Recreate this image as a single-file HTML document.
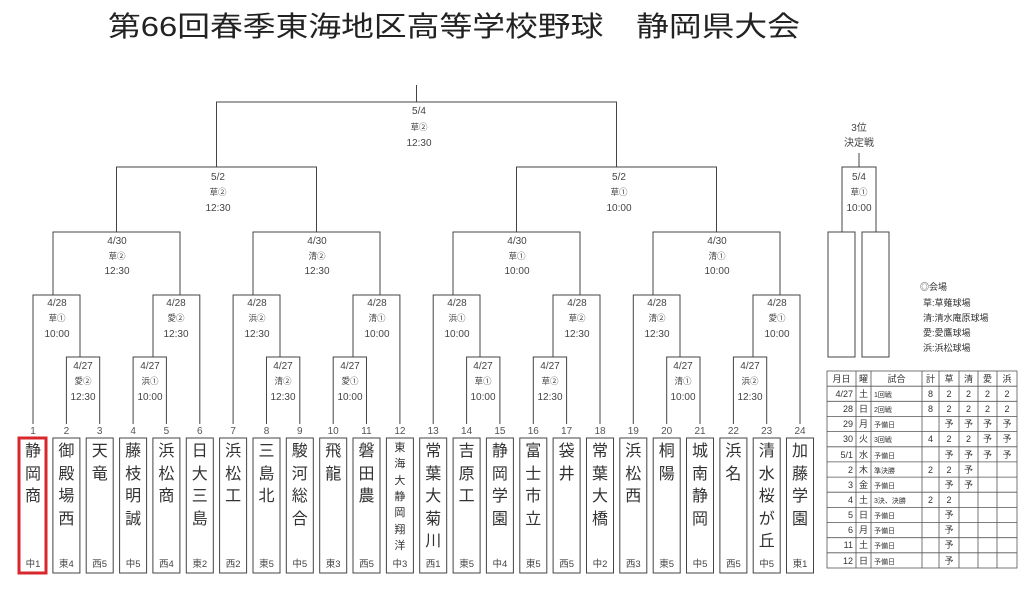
<!DOCTYPE html>
<html><head><meta charset="utf-8"><style>
html,body{margin:0;padding:0;background:#fff;}
svg{display:block;}
text{font-family:"Liberation Sans","Noto Sans CJK JP",sans-serif;fill:#333;}
.n{font-size:10px;text-anchor:middle;fill:#555;}
.t{font-size:16px;text-anchor:middle;fill:#333;}
.r{font-size:9.5px;text-anchor:middle;fill:#444;}
.d{font-size:10px;text-anchor:middle;fill:#444;}
.v{font-size:8.5px;text-anchor:middle;fill:#444;}
.tb{font-size:9px;fill:#222;}
</style></head><body>
<svg width="1024" height="589" viewBox="0 0 1024 589" xmlns="http://www.w3.org/2000/svg">
<text x="108" y="36" font-size="28" textLength="692" lengthAdjust="spacingAndGlyphs" style="fill:#222">第66回春季東海地区高等学校野球　静岡県大会</text>
<g fill="none" stroke="#444" stroke-width="1">
<path d="M66.4 424V357H99.7V424 M133.1 424V357H166.4V424 M33 424V295H80V357 M153 357V295H199.8V424 M53 295V232H180V295"/>
<path d="M266.5 424V357H299.8V424 M333.2 424V357H366.5V424 M233.1 424V295H280V357 M353 357V295H399.9V424 M253 295V232H380V295"/>
<path d="M116.5 232V167H316.5V232"/>
<path d="M466.6 424V357H499.9V424 M533.3 424V357H566.6V424 M433.2 424V295H480V357 M553 357V295H600V424 M453 295V232H580V295"/>
<path d="M666.7 424V357H700V424 M733.4 424V357H766.7V424 M633.3 424V295H680V357 M753 357V295H800V424 M653 295V232H780V295"/>
<path d="M516.5 232V167H716.5V232"/>
<path d="M216.5 167V102H616.5V167 M416.5 102V85"/>
<path d="M842 232V167H876V232 M859 167V153"/>
<rect x="828" y="232" width="27" height="125"/><rect x="862" y="232" width="27" height="125"/>
</g>
<!-- match labels -->
<g>
<text class="d" x="83" y="369">4/27</text><text class="v" x="83" y="384">愛②</text><text class="d" x="83" y="400">12:30</text>
<text class="d" x="150" y="369">4/27</text><text class="v" x="150" y="384">浜①</text><text class="d" x="150" y="400">10:00</text>
<text class="d" x="57" y="306">4/28</text><text class="v" x="57" y="321">草①</text><text class="d" x="57" y="337">10:00</text>
<text class="d" x="176" y="306">4/28</text><text class="v" x="176" y="321">愛②</text><text class="d" x="176" y="337">12:30</text>
<text class="d" x="117" y="244">4/30</text><text class="v" x="117" y="259">草②</text><text class="d" x="117" y="274">12:30</text>

<text class="d" x="283" y="369">4/27</text><text class="v" x="283" y="384">清②</text><text class="d" x="283" y="400">12:30</text>
<text class="d" x="350" y="369">4/27</text><text class="v" x="350" y="384">愛①</text><text class="d" x="350" y="400">10:00</text>
<text class="d" x="257" y="306">4/28</text><text class="v" x="257" y="321">浜②</text><text class="d" x="257" y="337">12:30</text>
<text class="d" x="377" y="306">4/28</text><text class="v" x="377" y="321">清①</text><text class="d" x="377" y="337">10:00</text>
<text class="d" x="317" y="244">4/30</text><text class="v" x="317" y="259">清②</text><text class="d" x="317" y="274">12:30</text>

<text class="d" x="218" y="180">5/2</text><text class="v" x="218" y="195">草②</text><text class="d" x="218" y="211">12:30</text>

<text class="d" x="483" y="369">4/27</text><text class="v" x="483" y="384">草①</text><text class="d" x="483" y="400">10:00</text>
<text class="d" x="550" y="369">4/27</text><text class="v" x="550" y="384">草②</text><text class="d" x="550" y="400">12:30</text>
<text class="d" x="457" y="306">4/28</text><text class="v" x="457" y="321">浜①</text><text class="d" x="457" y="337">10:00</text>
<text class="d" x="577" y="306">4/28</text><text class="v" x="577" y="321">草②</text><text class="d" x="577" y="337">12:30</text>
<text class="d" x="517" y="244">4/30</text><text class="v" x="517" y="259">草①</text><text class="d" x="517" y="274">10:00</text>

<text class="d" x="683" y="369">4/27</text><text class="v" x="683" y="384">清①</text><text class="d" x="683" y="400">10:00</text>
<text class="d" x="750" y="369">4/27</text><text class="v" x="750" y="384">浜②</text><text class="d" x="750" y="400">12:30</text>
<text class="d" x="657" y="306">4/28</text><text class="v" x="657" y="321">清②</text><text class="d" x="657" y="337">12:30</text>
<text class="d" x="777" y="306">4/28</text><text class="v" x="777" y="321">愛①</text><text class="d" x="777" y="337">10:00</text>
<text class="d" x="717" y="244">4/30</text><text class="v" x="717" y="259">清①</text><text class="d" x="717" y="274">10:00</text>

<text class="d" x="619" y="180">5/2</text><text class="v" x="619" y="195">草①</text><text class="d" x="619" y="211">10:00</text>
<text class="d" x="419" y="114">5/4</text><text class="v" x="419" y="130">草②</text><text class="d" x="419" y="146">12:30</text>

<text class="d" x="859" y="131">3位</text><text class="d" x="859" y="146">決定戦</text>
<text class="d" x="859" y="180">5/4</text><text class="v" x="859" y="195">草①</text><text class="d" x="859" y="211">10:00</text>
</g>
<!-- legend -->
<g class="tb" style="font-size:9px">
<text x="920" y="290">◎会場</text>
<text x="923" y="306">草:草薙球場</text>
<text x="923" y="321">清:清水庵原球場</text>
<text x="923" y="336">愛:愛鷹球場</text>
<text x="923" y="351">浜:浜松球場</text>
</g>
<!-- teams -->
<g fill="none" stroke="#444" stroke-width="1">
<rect x="66.4" y="438" width="27" height="135" transform="translate(-13.5 0)"/>
<rect x="86.2" y="438" width="27" height="135"/>
<rect x="119.6" y="438" width="27" height="135"/>
<rect x="152.9" y="438" width="27" height="135"/>
<rect x="186.3" y="438" width="27" height="135"/>
<rect x="219.6" y="438" width="27" height="135"/>
<rect x="253" y="438" width="27" height="135"/>
<rect x="286.3" y="438" width="27" height="135"/>
<rect x="319.7" y="438" width="27" height="135"/>
<rect x="353" y="438" width="27" height="135"/>
<rect x="386.4" y="438" width="27" height="135"/>
<rect x="419.7" y="438" width="27" height="135"/>
<rect x="453.1" y="438" width="27" height="135"/>
<rect x="486.4" y="438" width="27" height="135"/>
<rect x="519.8" y="438" width="27" height="135"/>
<rect x="553.1" y="438" width="27" height="135"/>
<rect x="586.5" y="438" width="27" height="135"/>
<rect x="619.8" y="438" width="27" height="135"/>
<rect x="653.2" y="438" width="27" height="135"/>
<rect x="686.5" y="438" width="27" height="135"/>
<rect x="719.9" y="438" width="27" height="135"/>
<rect x="753.2" y="438" width="27" height="135"/>
<rect x="786.5" y="438" width="27" height="135"/>
</g>
<rect x="19" y="438" width="27" height="135" fill="none" stroke="#d9272e" stroke-width="3"/>
<g>
<text class="n" x="33" y="434">1</text><text class="n" x="66.4" y="434">2</text><text class="n" x="99.7" y="434">3</text><text class="n" x="133.1" y="434">4</text><text class="n" x="166.4" y="434">5</text><text class="n" x="199.8" y="434">6</text><text class="n" x="233.1" y="434">7</text><text class="n" x="266.5" y="434">8</text><text class="n" x="299.8" y="434">9</text><text class="n" x="333.2" y="434">10</text><text class="n" x="366.5" y="434">11</text><text class="n" x="399.9" y="434">12</text><text class="n" x="433.2" y="434">13</text><text class="n" x="466.6" y="434">14</text><text class="n" x="499.9" y="434">15</text><text class="n" x="533.3" y="434">16</text><text class="n" x="566.6" y="434">17</text><text class="n" x="600" y="434">18</text><text class="n" x="633.3" y="434">19</text><text class="n" x="666.7" y="434">20</text><text class="n" x="700" y="434">21</text><text class="n" x="733.4" y="434">22</text><text class="n" x="766.7" y="434">23</text><text class="n" x="800" y="434">24</text>
</g>
<g>
<text class="t" x="33"><tspan x="33" y="456">静</tspan><tspan x="33" y="479">岡</tspan><tspan x="33" y="501">商</tspan></text>
<text class="t" x="66.4"><tspan x="66.4" y="456">御</tspan><tspan x="66.4" y="479">殿</tspan><tspan x="66.4" y="501">場</tspan><tspan x="66.4" y="524">西</tspan></text>
<text class="t" x="99.7"><tspan x="99.7" y="456">天</tspan><tspan x="99.7" y="479">竜</tspan></text>
<text class="t" x="133.1"><tspan x="133.1" y="456">藤</tspan><tspan x="133.1" y="479">枝</tspan><tspan x="133.1" y="501">明</tspan><tspan x="133.1" y="524">誠</tspan></text>
<text class="t" x="166.4"><tspan x="166.4" y="456">浜</tspan><tspan x="166.4" y="479">松</tspan><tspan x="166.4" y="501">商</tspan></text>
<text class="t" x="199.8"><tspan x="199.8" y="456">日</tspan><tspan x="199.8" y="479">大</tspan><tspan x="199.8" y="501">三</tspan><tspan x="199.8" y="524">島</tspan></text>
<text class="t" x="233.1"><tspan x="233.1" y="456">浜</tspan><tspan x="233.1" y="479">松</tspan><tspan x="233.1" y="501">工</tspan></text>
<text class="t" x="266.5"><tspan x="266.5" y="456">三</tspan><tspan x="266.5" y="479">島</tspan><tspan x="266.5" y="501">北</tspan></text>
<text class="t" x="299.8"><tspan x="299.8" y="456">駿</tspan><tspan x="299.8" y="479">河</tspan><tspan x="299.8" y="501">総</tspan><tspan x="299.8" y="524">合</tspan></text>
<text class="t" x="333.2"><tspan x="333.2" y="456">飛</tspan><tspan x="333.2" y="479">龍</tspan></text>
<text class="t" x="366.5"><tspan x="366.5" y="456">磐</tspan><tspan x="366.5" y="479">田</tspan><tspan x="366.5" y="501">農</tspan></text>
<text class="t" x="399.9" style="font-size:11px"><tspan x="399.9" y="451">東</tspan><tspan x="399.9" y="467">海</tspan><tspan x="399.9" y="484">大</tspan><tspan x="399.9" y="500">静</tspan><tspan x="399.9" y="516">岡</tspan><tspan x="399.9" y="533">翔</tspan><tspan x="399.9" y="549">洋</tspan></text>
<text class="t" x="433.2"><tspan x="433.2" y="456">常</tspan><tspan x="433.2" y="479">葉</tspan><tspan x="433.2" y="501">大</tspan><tspan x="433.2" y="524">菊</tspan><tspan x="433.2" y="546">川</tspan></text>
<text class="t" x="466.6"><tspan x="466.6" y="456">吉</tspan><tspan x="466.6" y="479">原</tspan><tspan x="466.6" y="501">工</tspan></text>
<text class="t" x="499.9"><tspan x="499.9" y="456">静</tspan><tspan x="499.9" y="479">岡</tspan><tspan x="499.9" y="501">学</tspan><tspan x="499.9" y="524">園</tspan></text>
<text class="t" x="533.3"><tspan x="533.3" y="456">富</tspan><tspan x="533.3" y="479">士</tspan><tspan x="533.3" y="501">市</tspan><tspan x="533.3" y="524">立</tspan></text>
<text class="t" x="566.6"><tspan x="566.6" y="456">袋</tspan><tspan x="566.6" y="479">井</tspan></text>
<text class="t" x="600"><tspan x="600" y="456">常</tspan><tspan x="600" y="479">葉</tspan><tspan x="600" y="501">大</tspan><tspan x="600" y="524">橋</tspan></text>
<text class="t" x="633.3"><tspan x="633.3" y="456">浜</tspan><tspan x="633.3" y="479">松</tspan><tspan x="633.3" y="501">西</tspan></text>
<text class="t" x="666.7"><tspan x="666.7" y="456">桐</tspan><tspan x="666.7" y="479">陽</tspan></text>
<text class="t" x="700"><tspan x="700" y="456">城</tspan><tspan x="700" y="479">南</tspan><tspan x="700" y="501">静</tspan><tspan x="700" y="524">岡</tspan></text>
<text class="t" x="733.4"><tspan x="733.4" y="456">浜</tspan><tspan x="733.4" y="479">名</tspan></text>
<text class="t" x="766.7"><tspan x="766.7" y="456">清</tspan><tspan x="766.7" y="479">水</tspan><tspan x="766.7" y="501">桜</tspan><tspan x="766.7" y="524">が</tspan><tspan x="766.7" y="546">丘</tspan></text>
<text class="t" x="800"><tspan x="800" y="456">加</tspan><tspan x="800" y="479">藤</tspan><tspan x="800" y="501">学</tspan><tspan x="800" y="524">園</tspan></text>
</g>
<g>
<text class="r" x="33" y="567">中1</text><text class="r" x="66.4" y="567">東4</text><text class="r" x="99.7" y="567">西5</text><text class="r" x="133.1" y="567">中5</text><text class="r" x="166.4" y="567">西4</text><text class="r" x="199.8" y="567">東2</text><text class="r" x="233.1" y="567">西2</text><text class="r" x="266.5" y="567">東5</text><text class="r" x="299.8" y="567">中5</text><text class="r" x="333.2" y="567">東3</text><text class="r" x="366.5" y="567">西5</text><text class="r" x="399.9" y="567">中3</text><text class="r" x="433.2" y="567">西1</text><text class="r" x="466.6" y="567">東5</text><text class="r" x="499.9" y="567">中4</text><text class="r" x="533.3" y="567">東5</text><text class="r" x="566.6" y="567">西5</text><text class="r" x="600" y="567">中2</text><text class="r" x="633.3" y="567">西3</text><text class="r" x="666.7" y="567">東5</text><text class="r" x="700" y="567">中5</text><text class="r" x="733.4" y="567">西5</text><text class="r" x="766.7" y="567">中5</text><text class="r" x="800" y="567">東1</text>
</g>
<!-- schedule table -->
<g fill="none" stroke="#555" stroke-width="0.8">
<rect x="827" y="371" width="190" height="197"/>
<path d="M856 371V568 M871 371V568 M922 371V568 M939 371V568 M959 371V568 M978 371V568 M997 371V568"/>
<path d="M827 386.2H1017 M827 401.3H1017 M827 416.5H1017 M827 431.6H1017 M827 446.8H1017 M827 461.9H1017 M827 477.1H1017 M827 492.2H1017 M827 507.4H1017 M827 522.5H1017 M827 537.7H1017 M827 552.8H1017"/>
</g>
<g class="tb">
<text x="841.5" y="382" text-anchor="middle">月日</text><text x="863.5" y="382" text-anchor="middle">曜</text><text x="896.5" y="382" text-anchor="middle">試合</text><text x="930.5" y="382" text-anchor="middle">計</text><text x="949" y="382" text-anchor="middle">草</text><text x="968.5" y="382" text-anchor="middle">清</text><text x="987.5" y="382" text-anchor="middle">愛</text><text x="1007" y="382" text-anchor="middle">浜</text>
</g>
<g class="tb" text-anchor="end">
<text x="853" y="397">4/27</text><text x="853" y="412">28</text><text x="853" y="427">29</text><text x="853" y="442">30</text><text x="853" y="458">5/1</text><text x="853" y="473">2</text><text x="853" y="488">3</text><text x="853" y="503">4</text><text x="853" y="518">5</text><text x="853" y="533">6</text><text x="853" y="548">11</text><text x="853" y="564">12</text>
</g>
<g class="tb" text-anchor="middle">
<text x="863.5" y="397">土</text><text x="863.5" y="412">日</text><text x="863.5" y="427">月</text><text x="863.5" y="442">火</text><text x="863.5" y="458">水</text><text x="863.5" y="473">木</text><text x="863.5" y="488">金</text><text x="863.5" y="503">土</text><text x="863.5" y="518">日</text><text x="863.5" y="533">月</text><text x="863.5" y="548">土</text><text x="863.5" y="564">日</text>
</g>
<g class="tb" style="font-size:7px">
<text x="874" y="397">1回戦</text><text x="874" y="412">2回戦</text><text x="874" y="427">予備日</text><text x="874" y="442">3回戦</text><text x="874" y="458">予備日</text><text x="874" y="473">準決勝</text><text x="874" y="488">予備日</text><text x="874" y="503">3決、決勝</text><text x="874" y="518">予備日</text><text x="874" y="533">予備日</text><text x="874" y="548">予備日</text><text x="874" y="564">予備日</text>
</g>
<g class="tb" text-anchor="middle">
<text x="930.5" y="397">8</text><text x="949" y="397">2</text><text x="968.5" y="397">2</text><text x="987.5" y="397">2</text><text x="1007" y="397">2</text>
<text x="930.5" y="412">8</text><text x="949" y="412">2</text><text x="968.5" y="412">2</text><text x="987.5" y="412">2</text><text x="1007" y="412">2</text>
<text x="949" y="427">予</text><text x="968.5" y="427">予</text><text x="987.5" y="427">予</text><text x="1007" y="427">予</text>
<text x="930.5" y="442">4</text><text x="949" y="442">2</text><text x="968.5" y="442">2</text><text x="987.5" y="442">予</text><text x="1007" y="442">予</text>
<text x="949" y="458">予</text><text x="968.5" y="458">予</text><text x="987.5" y="458">予</text><text x="1007" y="458">予</text>
<text x="930.5" y="473">2</text><text x="949" y="473">2</text><text x="968.5" y="473">予</text>
<text x="949" y="488">予</text><text x="968.5" y="488">予</text>
<text x="930.5" y="503">2</text><text x="949" y="503">2</text>
<text x="949" y="518">予</text>
<text x="949" y="533">予</text>
<text x="949" y="548">予</text>
<text x="949" y="564">予</text>
</g>
</svg>
</body></html>
